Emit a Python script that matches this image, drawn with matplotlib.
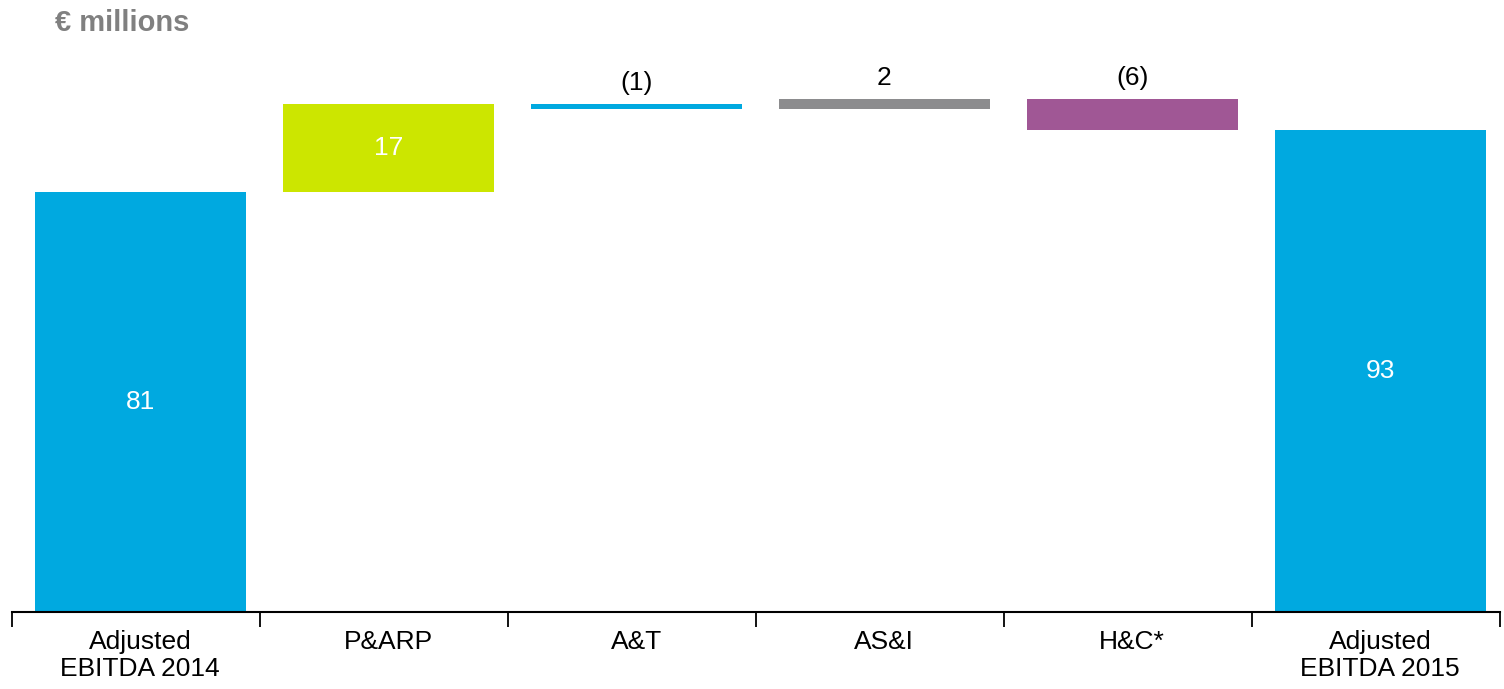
import matplotlib
matplotlib.use('Agg')
import matplotlib.pyplot as plt

plt.rcParams['font.family'] = ['Liberation Sans', 'DejaVu Sans']

categories = ['Adjusted\nEBITDA 2014', 'P&ARP', 'A&T', 'AS&I', 'H&C*', 'Adjusted\nEBITDA 2015']
start_value = 81
deltas = [17, -1, 2, -6]
end_value = 93
value_labels = ['81', '17', '(1)', '2', '(6)', '93']
colors = ['#00A9E0', '#CCE600', '#00A9E0', '#8C8C8E', '#A05795', '#00A9E0']

# build waterfall bottoms/heights
bottoms = [0]
heights = [start_value]
running = start_value
for d in deltas:
    bottoms.append(min(running, running + d))
    heights.append(abs(d))
    running += d
bottoms.append(0)
heights.append(end_value)

fig = plt.figure(figsize=(15.04, 6.89), dpi=100)
ax = fig.add_axes([12 / 1504, (689 - 612) / 689, 1488 / 1504, 572 / 689])

x = list(range(len(categories)))
ax.bar(x, heights, bottom=bottoms, width=0.85, color=colors)

for i, lab in enumerate(value_labels):
    if i in (0, 1, 5):
        ax.text(i, bottoms[i] + heights[i] / 2, lab, ha='center', va='center',
                color='white', fontsize=19)
    else:
        ax.text(i, bottoms[i] + heights[i] + 1.6, lab, ha='center', va='bottom',
                color='black', fontsize=19)

# slot boundaries sit slightly left of the bar centres
shift = 0.017
ax.set_xlim(-0.5 - shift, 5.5 - shift)
ax.set_ylim(0, 110.3)

for s in ['top', 'right', 'left']:
    ax.spines[s].set_visible(False)
ax.spines['bottom'].set_linewidth(1.5)
ax.set_yticks([])

# boundary ticks as major, labels on minor
ax.set_xticks([i - 0.5 - shift for i in range(len(categories) + 1)])
ax.set_xticklabels([])
ax.tick_params(axis='x', which='major', direction='out', length=11, width=1.3, color='black')
ax.set_xticks(x, minor=True)
ax.set_xticklabels(categories, minor=True, fontsize=19, linespacing=1.15)
ax.tick_params(axis='x', which='minor', length=0, pad=13)

fig.text(55 / 1504, 1 - 23 / 689, '€ millions', fontsize=21, fontweight='bold',
         color='#808080', ha='left', va='center')

fig.savefig('out.png', dpi=100)
